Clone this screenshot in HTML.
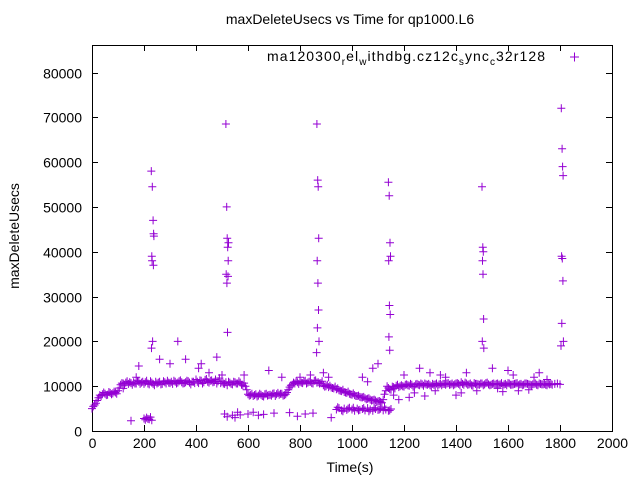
<!DOCTYPE html>
<html><head><meta charset="utf-8"><style>
body{margin:0;background:#fff}
svg{display:block;font-family:"Liberation Sans",sans-serif}
</style></head><body>
<svg id="chart" width="640" height="480" viewBox="0 0 640 480">
<rect width="640" height="480" fill="#fff"/>
<text x="350" y="24" font-size="14" text-anchor="middle">maxDeleteUsecs vs Time for qp1000.L6</text>
<text transform="translate(19,236) rotate(-90)" font-size="14" text-anchor="middle">maxDeleteUsecs</text>
<text x="350" y="472" font-size="14" text-anchor="middle">Time(s)</text>
<g id="axes"></g>
<g id="marks"></g>
<g>
<text x="267" y="61" font-size="14" textLength="278" lengthAdjust="spacing">ma120300<tspan font-size="10" dy="4">r</tspan><tspan dy="-4">el</tspan><tspan font-size="10" dy="4">w</tspan><tspan dy="-4">ithdbg.cz12c</tspan><tspan font-size="10" dy="4">s</tspan><tspan dy="-4">ync</tspan><tspan font-size="10" dy="4">c</tspan><tspan dy="-4">32r128</tspan></text>
<path d="M570,57h9M574.5,52.5v9" stroke="#9400d3" stroke-width="1"/>
</g>
</svg>
<script>
const xTicks=[0,200,400,600,800,1000,1200,1400,1600,1800,2000];
const yTicks=[0,10000,20000,30000,40000,50000,60000,70000,80000];
// base series every 10s starting at t=0
const baseValues=[5000,5800,6800,8000,8200,8300,8100,8500,8400,8600,9000,10300,10600,10800,10500,10700,10900,10600,11000,10800,10500,11200,10400,10800,10200,10600,11000,10500,10900,11200,10700,10500,11000,10800,11300,10600,10900,11100,10400,11000,11500,10700,11200,10900,11600,10800,11300,11000,10600,11800,11000,10500,10200,10800,10400,10900,10600,10800,10200,10000,8200,8000,7800,8200,7900,8100,7700,8300,8000,7900,8400,8200,8100,8300,8000,8600,9800,10300,10600,10900,11000,10700,11200,10800,11000,10600,11300,10900,10700,10200,10000,9800,9700,9500,9300,9100,8900,8700,8500,8300,8100,8000,7800,7600,7500,7300,7200,7000,6900,6800,6600,6500,7000,9000,9600,9200,9800,10100,9800,10200,9900,10400,10100,10300,10000,10500,10200,10400,10600,10300,10200,10500,10400,10100,10600,10500,10300,10700,10400,10200,10600,10500,10900,10300,10600,10400,10200,10700,10500,10300,10600,10400,10800,10200,10500,10300,10600,10400,10100,10500,10700,10300,10400,10600,10200,10500,10300,10600,10400,10200,10500,10300,10600,10400,10500,10200,10400,10300,10500,10600,10400];
const baseValues2=[5500,6200,7400,7800,8600,8000,8700,8200,8800,8300,9600,10700,10200,11100,10900,10300,10600,11200,10500,11000,10900,10600,11100,10500,11000,10800,10400,11100,10600,10800,11000,11200,10600,11100,10900,10700,11200,10800,11000,10700,11000,11300,10600,11400,11000,11200,10900,11500,11100,10700,10600,10900,11000,10500,11000,10600,11100,10300,10700,9200,7900,8300,8000,7700,8300,7800,8200,7900,8100,8300,7800,8500,8300,7900,8200,9200,10200,10800,11100,10500,10800,11100,10600,11000,10700,11200,10800,10600,11100,9900,10300,10100,9600,9900,9500,9000,9200,8600,8800,8200,8400,7800,7900,7500,7600,7100,7300,6800,7000,6500,6700,6300,8200,10000,9300,9900,9500,10300,10000,10000,10300,10200,10500,9900,10400,10300,10600,10100,10400,10500,10000,10300,10600,10400,10200,10500,10600,10300,10600,10400,10700,10200,10500,10800,10300,10600,10100,10500,10400,10600,10200,10700,10400,10300,10600,10500,10300,10700,10400,10200,10600,10300,10500,10700,10400,10200,10600,10500,10300,10400,10600,10200,10500,10400,10300,10600,10500];
// lower band times and values
const lowBandTimes=[940,950,960,970,980,990,1000,1010,1020,1030,1040,1050,1060,1070,1080,1090,1100,1110,1120,1130,1140,1150,945,965,985,1005,1025,1045,1065,1085,1105,1125,1145];
const lowBandValues=[4800,5100,4600,5000,4700,5200,4800,4500,5000,4700,4900,4600,5100,4800,4500,4900,4700,5000,4600,4800,4500,4900,5300,4400,5000,5200,4600,5100,4400,5200,4800,5300,4600];
// scattered points
const scatterTimes=[150,200,205,210,215,220,225,230,120,170,180,260,300,330,360,410,420,450,480,500,510,520,540,550,560,570,585,600,620,640,660,680,700,730,760,790,800,820,840,850,890,910,920,1040,1060,1080,1100,1160,1180,1200,1220,1240,1260,1280,1300,1320,1340,1360,1400,1440,1540,1560,1600,1640,1700,1750,1420,1480,1580,1620,1680,1720];
const scatterValues=[2300,2800,2500,3000,2700,2600,3100,2400,9500,12000,14500,16000,15000,20000,16000,14000,15000,13000,16500,12500,3800,3200,3500,3000,4200,3600,12500,3800,4200,3500,3700,13500,4000,12000,4100,3300,12000,3800,12500,4000,13000,12000,3000,12000,11000,14000,15000,8000,7000,12500,7500,8500,14000,7800,13000,9000,12500,12000,8000,13000,14000,9500,13500,9000,12000,11500,8500,9000,8800,12500,9200,13000];
// spikes
const spikeTimes=[228,232,235,238,230,236,233,229,231,237,515,518,520,522,524,516,519,521,523,525,865,868,870,872,866,869,871,867,873,864,1140,1143,1146,1148,1141,1144,1147,1142,1145,1500,1503,1505,1502,1504,1506,1501,1507,1805,1808,1810,1812,1806,1809,1811,1807,1813,1804];
const spikeValues=[58000,54500,47000,43500,39000,37000,20000,18500,38000,44000,68500,50000,43000,41000,38000,35000,33000,22000,34500,42000,68500,56000,54500,43000,38000,33000,27000,23000,20000,17500,55500,52500,42000,39000,38000,28000,26000,21000,18000,54500,41000,40000,38000,35000,25000,20000,18500,72000,63000,59000,57000,39000,38500,33500,24000,20000,19000];

const L=92,R=612,T=45,B=431;
const xs=v=>L+(v/2000)*(R-L);
const ys=v=>B-(v/80000)*358.5;
const NS='http://www.w3.org/2000/svg';
const axes=document.getElementById('axes');
const marks=document.getElementById('marks');
function mk(tag,attrs,parent){const e=document.createElementNS(NS,tag);for(const k in attrs)e.setAttribute(k,attrs[k]);parent.appendChild(e);return e;}
const frame=mk('rect',{x:L+0.5,y:T+0.5,width:R-L,height:B-T,fill:'none',stroke:'#000','stroke-width':1},axes);


xTicks.forEach(t=>{const x=Math.round(xs(t))+0.5;
 const p=mk('path',{d:`M${x},${B}v-6M${x},${T}v6`,stroke:'#000'},axes);
 
 
 const tx=mk('text',{x:x,y:B+17,'font-size':14,'text-anchor':'middle'},axes);tx.textContent=t;
 
 
});
yTicks.forEach(t=>{const y=Math.round(ys(t))+0.5;
 const p=mk('path',{d:`M${L},${y}h6M${R},${y}h-6`,stroke:'#000'},axes);
 
 
 const tx=mk('text',{x:L-10,y:y+5,'font-size':14,'text-anchor':'end'},axes);tx.textContent=t;
 
 
});
let d='';
function plus(t,v){const x=xs(t),y=ys(v);d+=`M${(x-4).toFixed(1)},${y.toFixed(1)}h8M${x.toFixed(1)},${(y-4).toFixed(1)}v8`;}
baseValues.forEach((v,i)=>plus(i*10,v));
baseValues2.forEach((v,i)=>plus(i*10+5,v));
lowBandTimes.forEach((t,i)=>plus(t,lowBandValues[i]));
scatterTimes.forEach((t,i)=>plus(t,scatterValues[i]));
spikeTimes.forEach((t,i)=>plus(t,spikeValues[i]));
const path=mk('path',{d:d,stroke:'#9400d3','stroke-width':1,fill:'none'},marks);


</script>
</body></html>
